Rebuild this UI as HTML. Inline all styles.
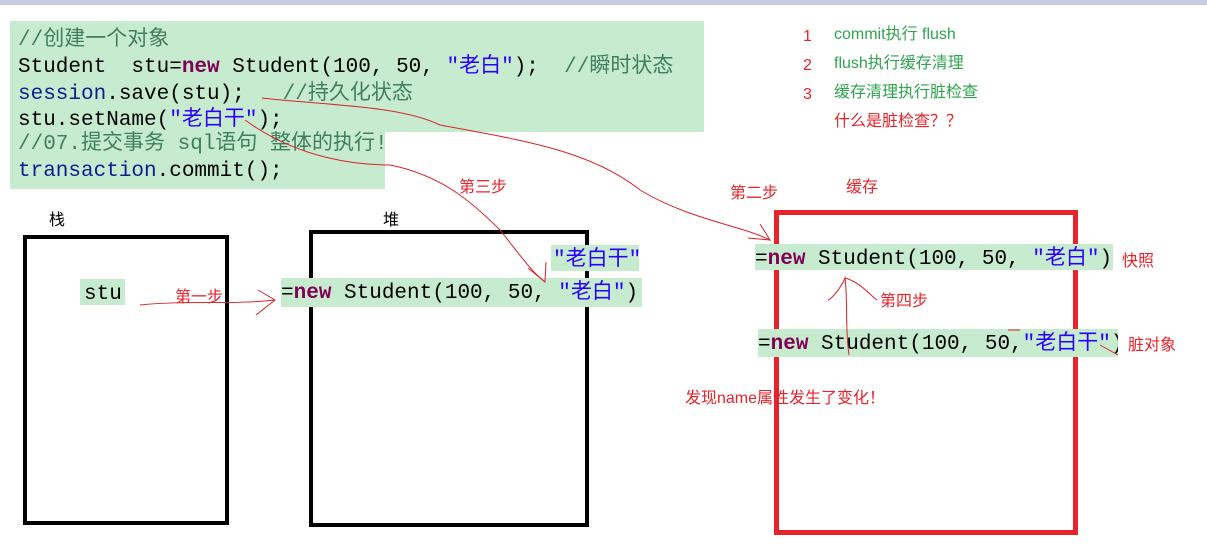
<!DOCTYPE html>
<html><head><meta charset="utf-8"><style>
body{margin:0;width:1207px;height:552px;background:#fff;position:relative;overflow:hidden;font-family:"Liberation Sans","Noto Sans CJK SC",sans-serif}
.a{position:absolute;white-space:pre}
.m{font-family:"Liberation Mono","Noto Sans CJK SC",monospace;font-size:21px;line-height:26px;color:#000}
.g{background:#c7ebcf}
.k{color:#7f0055;font-weight:bold}
.s{color:#2a00ff}
.c{color:#3f7f5f}
.b{color:#0a1f8f}
.r{color:#e8232b;font-size:16px;line-height:20px}
.gr{color:#2ea44f;font-size:16px;line-height:20px}
.box{position:absolute;box-sizing:border-box}
.t{padding-top:3px;box-sizing:border-box}
</style></head><body>
<div class="a" style="left:0;top:0;width:1207px;height:5px;background:#c8cce0"></div>
<div class="a g" style="left:10px;top:21px;width:694px;height:111px"></div>
<div class="a g" style="left:10px;top:132px;width:375px;height:57px"></div>
<div class="a m" style="left:18px;top:28px"><span class="c">//创建一个对象</span></div>
<div class="a m" style="left:18px;top:55px">Student  stu=<span class="k">new</span> Student(100, 50, <span class="s">"老白"</span>);  <span class="c">//瞬时状态</span></div>
<div class="a m" style="left:18px;top:82px"><span class="b">session</span>.save(stu);   <span class="c">//持久化状态</span></div>
<div class="a m" style="left:18px;top:108px">stu.setName(<span class="s">"老白干"</span>);</div>
<div class="a m" style="left:18px;top:132px"><span class="c">//07.提交事务 sql语句 整体的执行!</span></div>
<div class="a m" style="left:18px;top:159px"><span class="b">transaction</span>.commit();</div>

<div class="a r" style="left:803px;top:27px">1</div><div class="a gr" style="left:834px;top:25px">commit执行 flush</div>
<div class="a r" style="left:803px;top:56px">2</div><div class="a gr" style="left:834px;top:54px">flush执行缓存清理</div>
<div class="a r" style="left:803px;top:85px">3</div><div class="a gr" style="left:834px;top:83px">缓存清理执行脏检查</div>
<div class="a r" style="left:834px;top:112px">什么是脏检查？？</div>
<div class="a r" style="left:846px;top:178px">缓存</div>
<div class="a r" style="left:730px;top:184px">第二步</div>
<div class="a r" style="left:459px;top:178px">第三步</div>

<div class="a" style="left:49px;top:206px;font-size:16px">栈</div>
<div class="a" style="left:383px;top:206px;font-size:16px">堆</div>

<div class="box" style="left:23px;top:235px;width:206px;height:290px;border:4px solid #000"></div>
<div class="box" style="left:309px;top:230px;width:280px;height:297px;border:4px solid #000"></div>
<div class="box" style="left:774px;top:210px;width:304px;height:325px;border:5px solid #e8232b"></div>

<div class="a m g t" style="left:80px;top:279px;width:45px;height:26px;padding-left:4px">stu</div>
<div class="a r" style="left:175px;top:288px">第一步</div>
<div class="a m g t" style="left:551px;top:245px;width:88px;height:26px;padding-left:2px;overflow:hidden"><span class="s">"老白干"</span></div>
<div class="a m g t" style="left:281px;top:278px;width:361px;height:29px;overflow:hidden">=<span class="k">new</span> Student(100, 50, <span class="s">"老白"</span>)</div>

<div class="a m g t" style="left:755px;top:244px;width:358px;height:26px;overflow:hidden">=<span class="k">new</span> Student(100, 50, <span class="s">"老白"</span>)</div>
<div class="a r" style="left:1122px;top:252px">快照</div>
<div class="a r" style="left:880px;top:292px">第四步</div>
<div class="a m g t" style="left:758px;top:329px;width:360px;height:28px;overflow:hidden">=<span class="k">new</span> Student(100, 50,<span class="s">"老白干"</span>)</div>
<div class="a r" style="left:1128px;top:336px">脏对象</div>
<div class="a r" style="left:685px;top:389px">发现name属性发生了变化！</div>

<svg class="a" style="left:0;top:0" width="1207" height="552" fill="none" stroke="#d8232b" stroke-width="1">
<path d="M262 98 C320 105,400 105,440 125 C520 140,590 150,640 190 C690 220,740 225,770 240"/>
<path d="M748 238 L770 240 L760 224"/>
<path d="M245 120 C300 160,360 165,390 165 C440 175,470 200,500 230 C520 255,530 270,545 282"/>
<path d="M528 268 L545 282 L546 262"/>
<path d="M140 305 C190 300,230 305,275 300"/>
<path d="M258 290 L275 300 L256 315"/>
<path d="M849 355 C845 330,848 300,845 278 C840 290,830 300,828 300"/>
<path d="M845 278 C860 282,870 295,877 300"/>
<path d="M1008 330 L1020 330 M1100 345 L1118 355"/>
</svg>
</body></html>
